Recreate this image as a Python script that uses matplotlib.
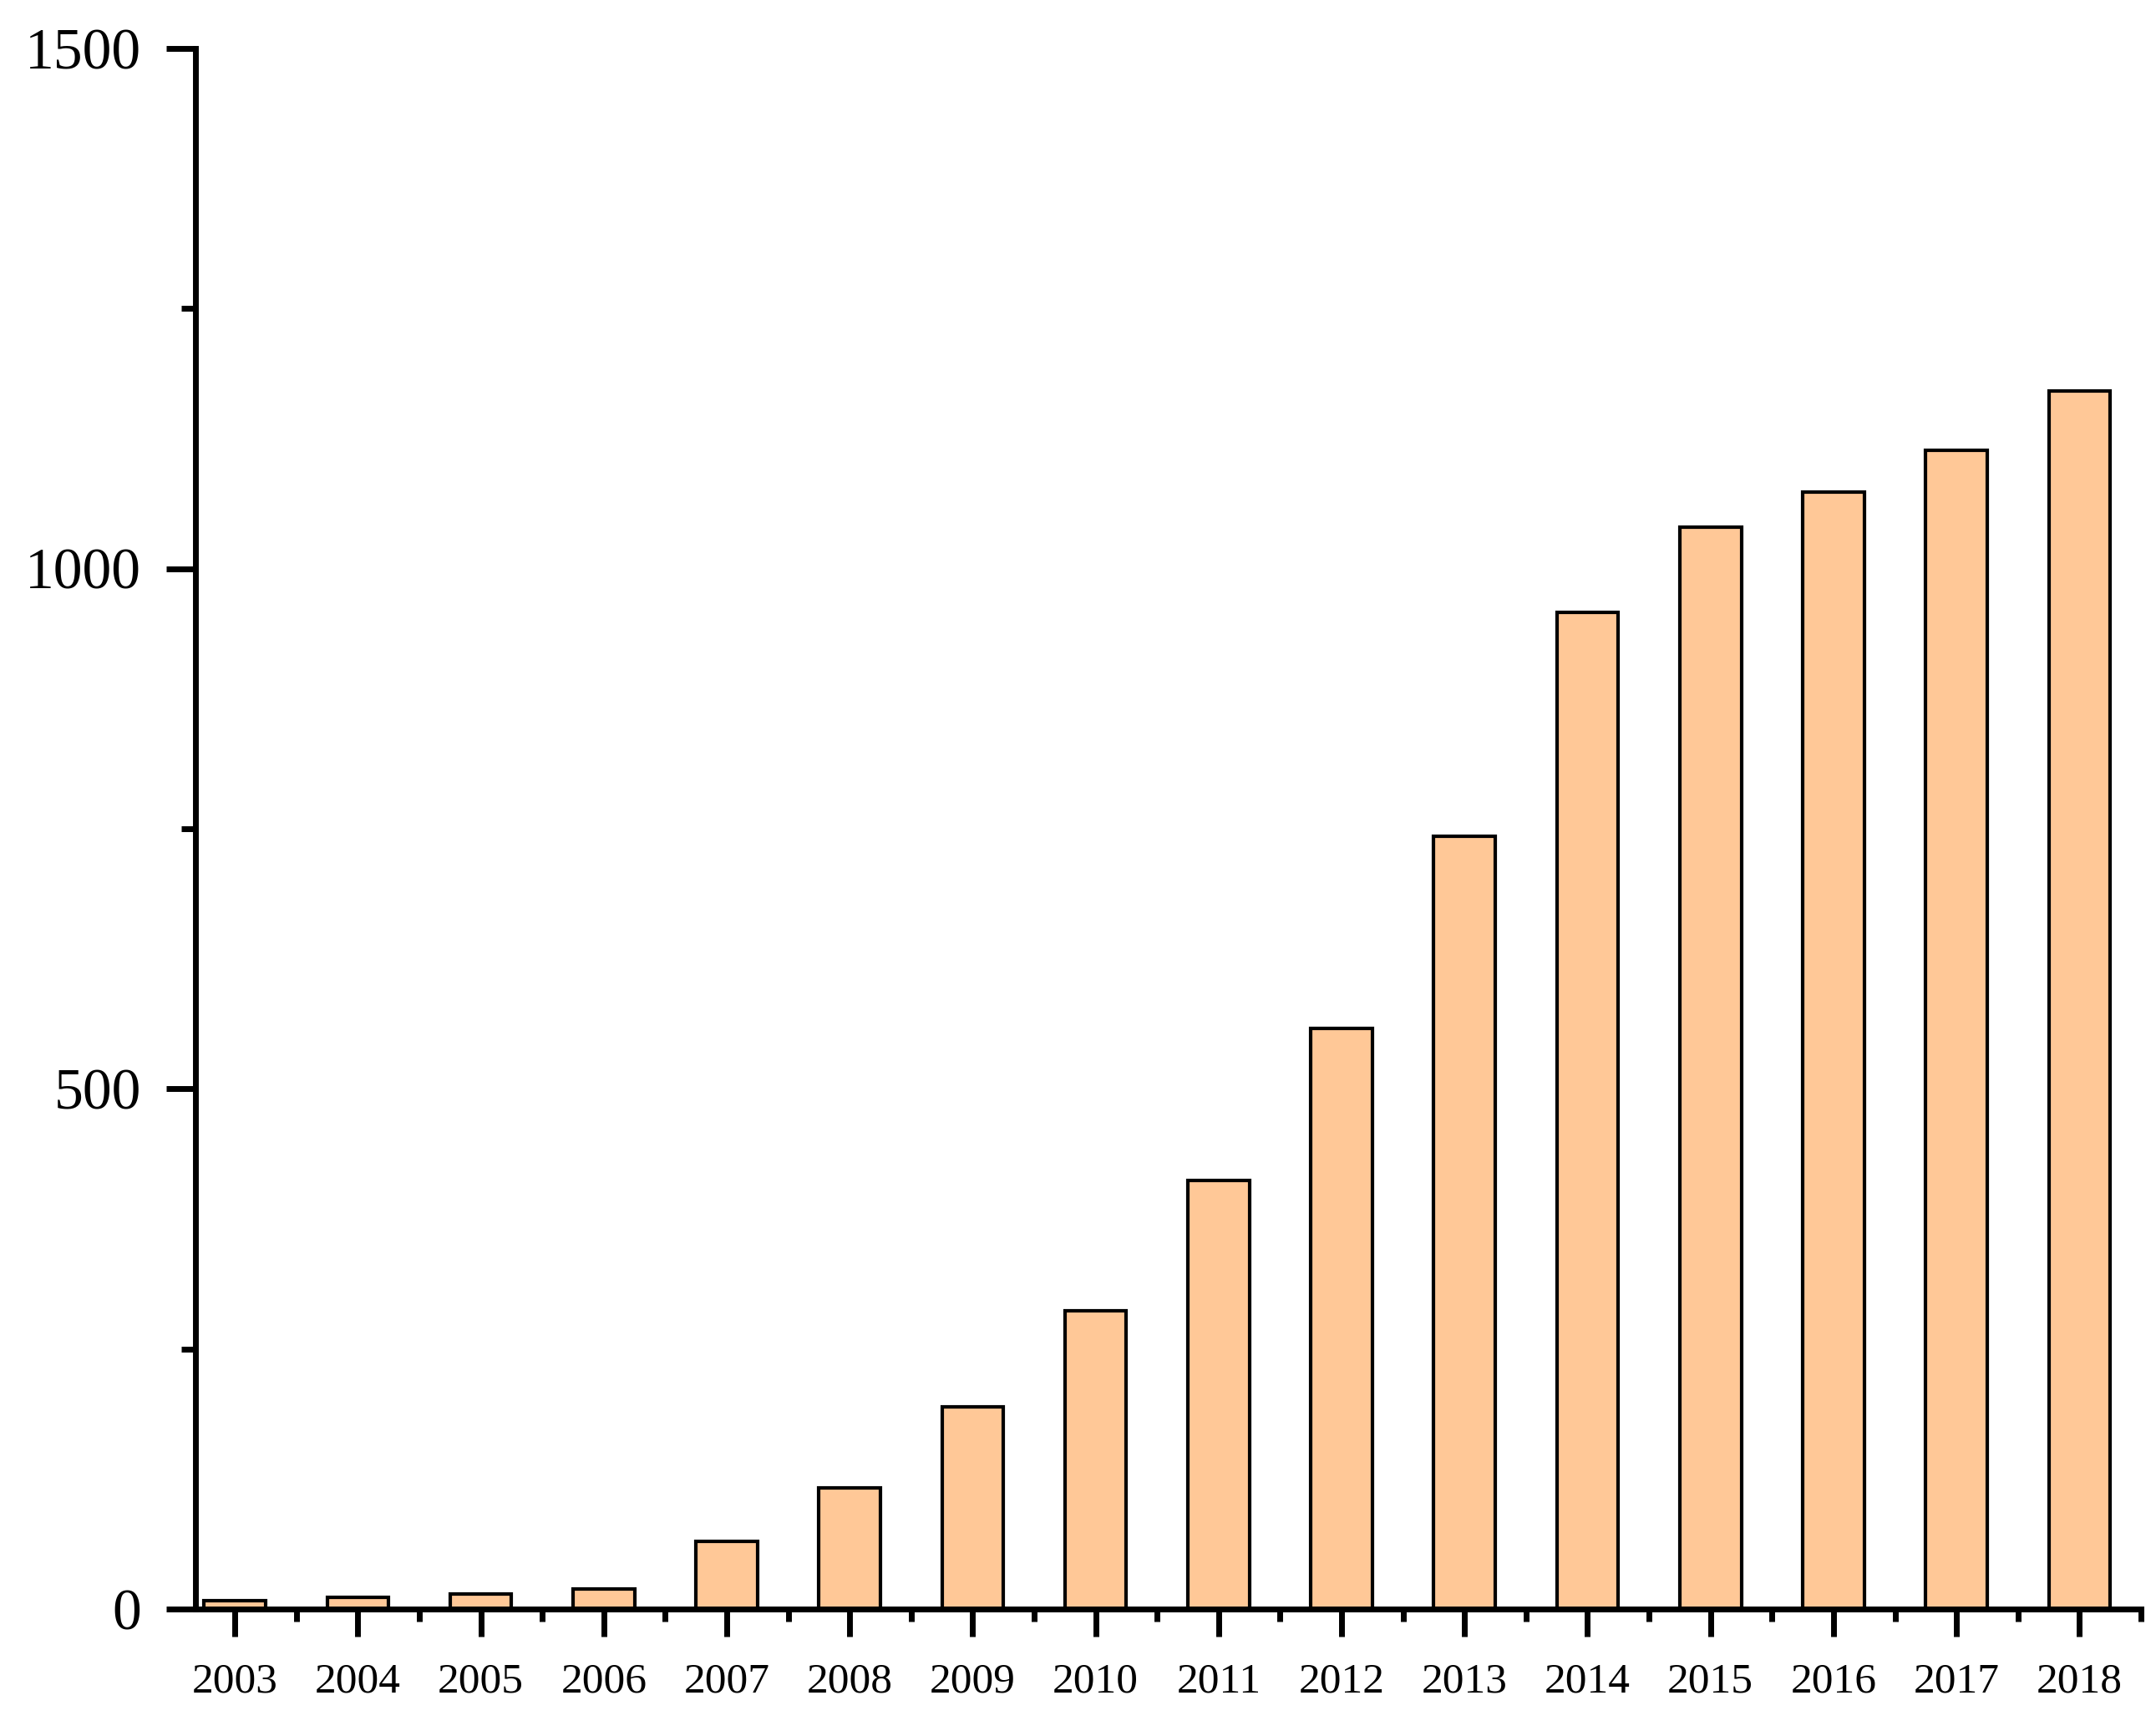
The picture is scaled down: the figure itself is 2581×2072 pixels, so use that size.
import matplotlib
matplotlib.use('Agg')
import matplotlib.pyplot as plt
from matplotlib.ticker import MultipleLocator

years = [2003, 2004, 2005, 2006, 2007, 2008, 2009, 2010,
         2011, 2012, 2013, 2014, 2015, 2016, 2017, 2018]
counts = [8, 11, 14, 19, 65, 116, 194, 287,
          412, 558, 743, 958, 1040, 1074, 1114, 1171]
y_ticks = [0, 500, 1000, 1500]

plt.rcParams['font.family'] = ['Liberation Serif', 'DejaVu Serif']

fig = plt.figure(figsize=(25.81, 20.72), dpi=100)
ax = fig.add_axes([0.0907, 0.0705, 0.9023, 0.9015])

ax.bar(years, counts, width=0.5, color='#FFC897', edgecolor='black', linewidth=3, zorder=2)

ax.set_xlim(2002.68, 2018.5)
ax.set_ylim(0, 1500)
ax.set_xticks(years)
ax.set_xticklabels([str(y) for y in years])
ax.xaxis.set_minor_locator(MultipleLocator(1, offset=0.5))
ax.set_yticks(y_ticks)
ax.yaxis.set_minor_locator(MultipleLocator(250))

for side in ['top', 'right']:
    ax.spines[side].set_visible(False)
for side in ['left', 'bottom']:
    ax.spines[side].set_linewidth(5)
ax.spines['bottom'].set_zorder(3)

ax.tick_params(axis='x', which='major', direction='out', length=24, width=5, labelsize=37, pad=22)
ax.tick_params(axis='x', which='minor', direction='out', length=11, width=5)
ax.tick_params(axis='y', which='major', direction='out', length=25, width=5, labelsize=50, pad=22)
ax.tick_params(axis='y', which='minor', direction='out', length=12, width=5)

fig.savefig('out.png', dpi=100)
